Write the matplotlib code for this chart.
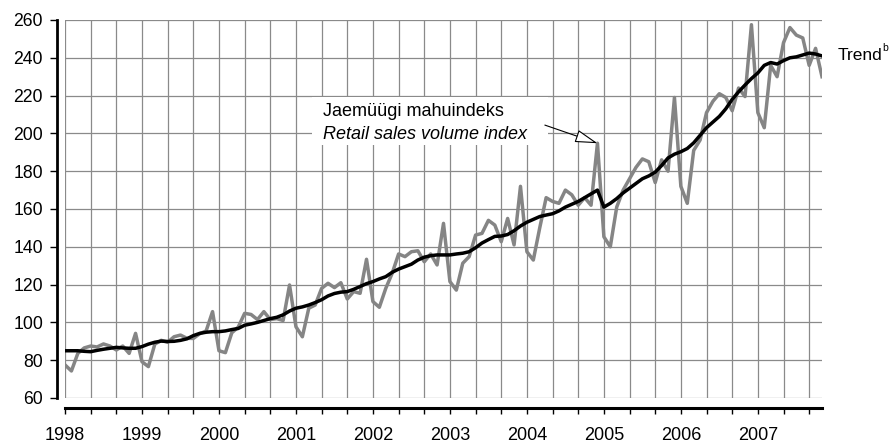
import matplotlib
matplotlib.use("Agg")
import matplotlib.pyplot as plt
from matplotlib.patches import Rectangle

plt.rcParams['font.family'] = ['Liberation Sans', 'DejaVu Sans']

# monthly retail sales volume index, Jan 1998 .. Nov 2007
raw_1998 = [77.5, 74.3, 83.6, 86.5, 87.5, 87.0, 88.6, 87.5, 85.4, 87.5, 83.6, 94.2]
raw_1999 = [79.2, 76.6, 88.5, 90.5, 89.5, 92.4, 93.3, 91.6, 91.5, 94.0, 95.5, 105.7]
raw_2000 = [85.0, 84.0, 94.5, 97.5, 104.8, 104.2, 101.5, 105.7, 101.5, 102.0, 101.0, 119.8]
raw_2001 = [97.7, 92.4, 107.5, 109.2, 118.0, 120.7, 118.4, 121.0, 112.4, 116.3, 115.4, 133.4]
raw_2002 = [111.0, 108.0, 118.0, 126.0, 136.2, 134.8, 137.4, 137.9, 132.1, 136.2, 130.4, 152.4]
raw_2003 = [121.6, 117.1, 131.3, 134.8, 146.2, 147.1, 154.0, 151.5, 142.7, 155.0, 141.0, 172.0]
raw_2004 = [137.4, 133.0, 150.0, 166.0, 164.0, 163.0, 170.0, 167.5, 162.0, 166.0, 162.0, 194.8]
raw_2005 = [145.3, 140.0, 161.0, 170.0, 176.0, 182.0, 186.5, 185.0, 174.0, 186.0, 180.0, 219.0]
raw_2006 = [172.0, 163.0, 191.0, 196.5, 211.0, 217.0, 221.0, 219.0, 212.0, 224.0, 219.5, 257.5]
raw_2007 = [211.0, 203.0, 236.0, 230.0, 248.0, 256.0, 252.0, 250.5, 236.0, 245.0, 230.0]

trend_1998 = [85.0, 85.0, 85.0, 84.7, 84.5, 85.2, 85.8, 86.3, 86.8, 86.5, 86.3, 86.3]
trend_1999 = [87.2, 88.5, 89.5, 90.1, 89.9, 90.0, 90.5, 91.3, 93.0, 94.2, 94.8, 95.1]
trend_2000 = [95.1, 95.5, 96.2, 96.8, 98.5, 99.2, 100.0, 101.0, 102.0, 102.7, 104.0, 106.0]
trend_2001 = [107.5, 108.2, 109.2, 110.5, 112.0, 114.0, 115.3, 116.0, 116.3, 117.5, 119.0, 120.5]
trend_2002 = [121.6, 123.0, 124.2, 126.5, 128.2, 129.5, 130.8, 133.0, 134.5, 135.3, 135.7, 135.7]
trend_2003 = [135.7, 136.2, 136.6, 137.4, 139.5, 142.0, 143.8, 145.5, 145.7, 146.5, 148.5, 151.0]
trend_2004 = [153.0, 154.5, 156.0, 156.8, 157.5, 159.0, 161.0, 162.5, 164.0, 166.0, 168.0, 170.0]
trend_2005 = [161.0, 163.0, 165.5, 168.5, 171.0, 173.5, 176.0, 177.5, 179.5, 183.0, 187.0, 189.0]
trend_2006 = [190.3, 192.0, 195.0, 199.0, 203.0, 206.0, 209.0, 213.0, 218.0, 222.0, 225.6, 229.0]
trend_2007 = [232.0, 236.0, 237.5, 236.7, 238.5, 240.0, 240.5, 241.5, 242.5, 242.0, 241.0]

years = [1998, 1999, 2000, 2001, 2002, 2003, 2004, 2005, 2006, 2007]
y_ticks = [60, 80, 100, 120, 140, 160, 180, 200, 220, 240, 260]

raw = (raw_1998 + raw_1999 + raw_2000 + raw_2001 + raw_2002 +
       raw_2003 + raw_2004 + raw_2005 + raw_2006 + raw_2007)
trend = (trend_1998 + trend_1999 + trend_2000 + trend_2001 + trend_2002 +
         trend_2003 + trend_2004 + trend_2005 + trend_2006 + trend_2007)
months = list(range(len(raw)))
peak = raw.index(max(raw_2004))  # Dec 2004 spike the label points at

fig = plt.figure(figsize=(8.91, 4.45), dpi=100)
ax = fig.add_axes([65 / 891, 47 / 445, 757 / 891, 378 / 445])

ax.plot(months, raw, color='#858585', lw=2.5, zorder=3)
ax.plot(months, trend, color='black', lw=2.5, zorder=4)

ax.set_xlim(0, len(raw) - 1)
ax.set_ylim(60, 260)

ax.spines['top'].set_visible(False)
ax.spines['right'].set_visible(False)
ax.spines['left'].set_position(('outward', 5.8))
ax.spines['bottom'].set_position(('outward', 7.2))
ax.spines['left'].set_linewidth(2.0)
ax.spines['bottom'].set_linewidth(2.2)
ax.tick_params(axis='y', length=5, width=1.0, pad=5, labelsize=12.7)
ax.tick_params(axis='x', length=4, width=1.0, pad=10, labelsize=13)

xt = list(range(0, len(raw), 4))
ax.set_xticks(xt)
ax.set_xticklabels([str(years[0] + m // 12) if m % 12 == 0 else '' for m in xt])
ax.set_yticks(y_ticks)
ax.set_yticklabels([str(v) for v in y_ticks])

ax.grid(True, color='#8a8a8a', lw=0.9)
ax.set_axisbelow(True)

# white box behind the series label
ax.add_patch(Rectangle((38.5, 193.9), 36.8, 25.4, facecolor='white',
                       edgecolor='none', zorder=2))
ax.text(40.2, 211.5, 'Jaemüügi mahuindeks', fontsize=13, va='center', zorder=5)
ax.text(40.2, 199.5, 'Retail sales volume index', fontsize=13, style='italic',
        va='center', zorder=5)
ax.annotate('', xy=(peak, raw[peak]), xytext=(74.8, 204.4),
            arrowprops=dict(arrowstyle='-|>,head_length=0.7,head_width=0.2',
                            fc='white', ec='black', lw=0.8,
                            mutation_scale=20, shrinkA=0, shrinkB=0),
            zorder=6)

ax.text(120.5, trend[-1], 'Trend', fontsize=12.5, va='center', clip_on=False)
ax.annotate('b', xy=(120.5, trend[-1]), xytext=(31.5, 2), textcoords='offset points',
            fontsize=7.5, va='bottom', annotation_clip=False)

fig.savefig('out.png', dpi=100)
